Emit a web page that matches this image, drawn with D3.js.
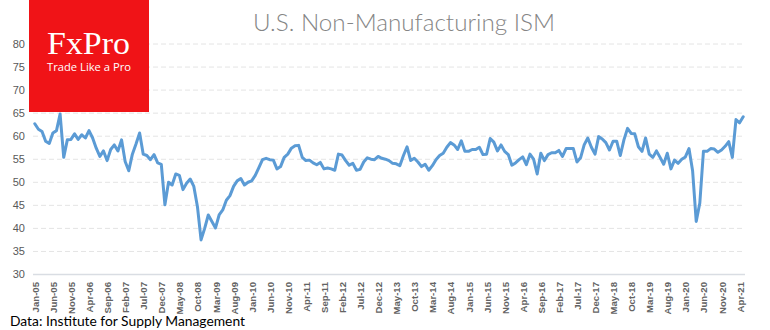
<!DOCTYPE html>
<html>
<head>
<meta charset="utf-8">
<script src="https://cdn.jsdelivr.net/npm/d3@7"></script>
<style>
  html, body { margin: 0; padding: 0; background: #fff; }
  svg { display: block; }
</style>
</head>
<body>
<svg id="chart" width="770" height="330"></svg>
<script>
// ---------- data ----------
const monthNames = ["Jan","Feb","Mar","Apr","May","Jun","Jul","Aug","Sep","Oct","Nov","Dec"];
const startYear = 2005;
const nMonths = 197; // Jan-05 .. May-21
const categories = d3.range(nMonths).map(i =>
  monthNames[i % 12] + "-" + String((startYear + Math.floor(i / 12)) % 100).padStart(2, "0"));

const ismValues = [
  62.6, 61.4, 60.9, 58.8, 58.3, 60.6, 61.1, 64.7, 55.3, 59.1, 59.2, 60.4,
  59.2, 60.2, 59.5, 61.1, 59.5, 57.3, 55.5, 56.7, 54.6, 57.0, 58.0, 56.7,
  59.1, 54.4, 52.4, 56.0, 58.2, 60.6, 56.0, 55.7, 54.8, 55.9, 54.1, 53.8,
  45.0, 49.9, 49.3, 51.7, 51.4, 48.3, 49.7, 50.6, 49.0, 44.6, 37.4, 39.9,
  42.8, 41.4, 40.0, 42.8, 43.9, 46.0, 47.0, 49.0, 50.2, 50.7, 49.3, 49.9,
  50.2, 51.4, 53.1, 54.8, 55.1, 54.8, 54.7, 52.8, 53.3, 55.3, 56.0, 57.3,
  57.8, 57.9, 55.3, 54.6, 54.7, 54.1, 53.7, 54.2, 52.8, 53.0, 52.8, 52.5,
  56.0, 55.8, 54.6, 53.6, 54.0, 52.5, 52.7, 54.3, 55.2, 54.9, 54.8, 55.5,
  55.1, 54.9, 54.6, 54.0, 53.9, 53.5, 55.7, 57.6, 54.6, 55.1, 54.3, 53.3,
  53.8, 52.5, 53.5, 54.8, 55.7, 56.2, 57.5, 58.5, 58.0, 57.0, 58.9, 56.6,
  56.6, 57.0, 57.0, 57.5, 55.9, 56.0, 59.4, 58.6, 56.7, 58.0, 56.6, 55.9,
  53.6, 54.1, 54.8, 55.4, 53.7, 56.0, 54.9, 51.7, 56.2, 54.6, 55.9, 56.3,
  56.3, 56.8, 55.5, 57.2, 57.2, 57.2, 54.3, 55.2, 58.0, 59.5, 57.5, 56.0,
  59.8, 59.3, 58.5, 56.9, 58.8, 58.8, 55.7, 59.1, 61.6, 60.5, 60.4, 57.6,
  56.6, 59.5, 56.0, 55.3, 56.7, 55.3, 53.8, 56.2, 52.8, 54.7, 54.0, 54.9,
  55.4, 57.2, 52.4, 41.4, 45.4, 56.6, 56.6, 57.2, 57.1, 56.4, 56.9, 57.7,
  58.7, 55.3, 63.5, 62.8, 64.1
];

const yTicks = [30, 35, 40, 45, 50, 55, 60, 65, 70, 75, 80];
const xTickLabels = ["Jan-05","Jun-05","Nov-05","Apr-06","Sep-06","Feb-07","Jul-07","Dec-07",
  "May-08","Oct-08","Mar-09","Aug-09","Jan-10","Jun-10","Nov-10","Apr-11","Sep-11","Feb-12",
  "Jul-12","Dec-12","May-13","Oct-13","Mar-14","Aug-14","Jan-15","Jun-15","Nov-15","Apr-16",
  "Sep-16","Feb-17","Jul-17","Dec-17","May-18","Oct-18","Mar-19","Aug-19","Jan-20","Jun-20",
  "Nov-20","Apr-21"];

const titleText = "U.S. Non-Manufacturing ISM";
const sourceText = "Data: Institute for Supply Management";

// ---------- layout ----------
const svg = d3.select("#chart");
const plotLeft = 33, plotRight = 745, plotTop = 43.5, plotBottom = 274;

const x = d3.scalePoint().domain(categories).range([plotLeft + 1.8, plotRight - 1.8]);
const y = d3.scaleLinear().domain([30, 80]).range([plotBottom, plotTop]);

// gridlines
const yAxis = d3.axisLeft(y).tickValues(yTicks).tickSize(-(plotRight - plotLeft)).tickPadding(8);
const gy = svg.append("g").attr("transform", `translate(${plotLeft},0)`).call(yAxis);
gy.select(".domain").remove();
gy.selectAll(".tick line")
  .attr("stroke", d => d === 30 ? "#d9dde3" : "#e4e4e4")
  .attr("stroke-width", d => d === 30 ? 1.3 : 1)
  .attr("stroke-dasharray", d => d === 30 ? null : "5,3");
gy.selectAll(".tick text")
  .attr("font-family", "Liberation Sans, Arial, sans-serif")
  .attr("font-size", 11)
  .attr("fill", "#595959");

// x axis labels
const xAxis = d3.axisBottom(x).tickValues(xTickLabels).tickSize(0).tickPadding(0);
const gx = svg.append("g").attr("transform", `translate(0,${plotBottom})`).call(xAxis);
gx.select(".domain").remove();
gx.selectAll(".tick text")
  .attr("font-family", "Liberation Sans, Arial, sans-serif")
  .attr("font-size", 9.6)
  .attr("font-weight", "bold")
  .attr("fill", "#636363")
  .attr("text-anchor", "end")
  .attr("dy", null)
  .attr("y", 0)
  .attr("x", 0)
  .attr("transform", "translate(3.5,8) rotate(-90)");

// line
const line = d3.line()
  .x((d, i) => x(categories[i]))
  .y(d => y(d));
svg.append("path")
  .datum(ismValues)
  .attr("fill", "none")
  .attr("stroke", "#5b9bd5")
  .attr("stroke-width", 3)
  .attr("stroke-linejoin", "round")
  .attr("stroke-linecap", "round")
  .attr("d", line);

// title
svg.append("text")
  .attr("x", 404).attr("y", 30.5)
  .attr("text-anchor", "middle")
  .attr("font-family", "Lato, 'Open Sans', sans-serif")
  .attr("font-weight", 300)
  .attr("font-size", 24)
  .attr("fill", "#858585")
  .attr("textLength", 302)
  .attr("lengthAdjust", "spacingAndGlyphs")
  .text(titleText);

// logo
const logo = svg.append("g");
logo.append("rect").attr("x", 29).attr("y", 0).attr("width", 120).attr("height", 112).attr("fill", "#f01317");
logo.append("text")
  .attr("x", 47).attr("y", 53.5)
  .attr("font-family", "Liberation Serif, 'Times New Roman', serif")
  .attr("font-size", 31)
  .attr("fill", "#fff")
  .attr("textLength", 83)
  .attr("lengthAdjust", "spacingAndGlyphs")
  .text("FxPro");
logo.append("text")
  .attr("x", 47).attr("y", 71)
  .attr("font-family", "'Open Sans', Lato, sans-serif")
  .attr("font-size", 11)
  .attr("fill", "#fff")
  .attr("textLength", 84)
  .attr("lengthAdjust", "spacingAndGlyphs")
  .text("Trade Like a Pro");

// source
svg.append("text")
  .attr("x", 10).attr("y", 326)
  .attr("font-family", "Lato, 'Open Sans', sans-serif")
  .attr("font-size", 13.5)
  .attr("fill", "#000")
  .attr("textLength", 235)
  .attr("lengthAdjust", "spacingAndGlyphs")
  .text(sourceText);
</script>
</body>
</html>
